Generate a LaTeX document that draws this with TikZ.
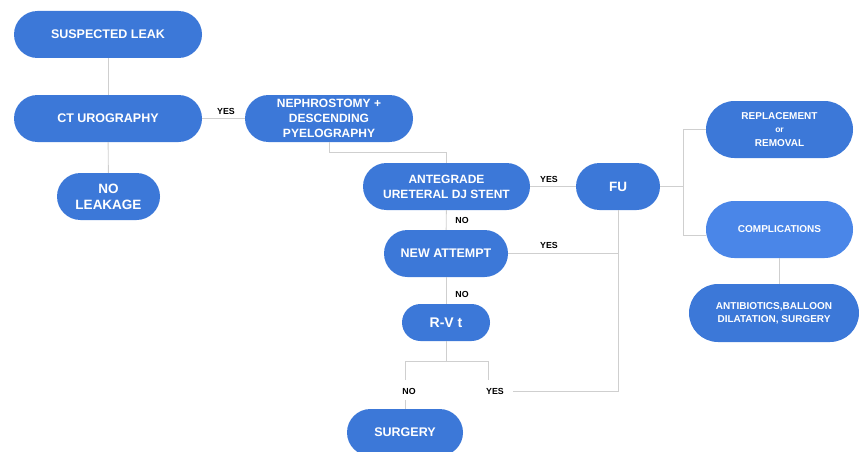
\documentclass[tikz,border=0pt]{standalone}
\usepackage{fontspec}
\setmainfont{Liberation Sans}
\definecolor{nb}{HTML}{3C78D8}
\definecolor{nlt}{HTML}{4A86E8}
\definecolor{lnc}{HTML}{CFCFCF}
\begin{document}
\begin{tikzpicture}[x=1pt,y=-1pt,
  box/.style={fill=nb, text=white, align=center, inner sep=0pt, font=\bfseries\fontsize{12.5}{15}\selectfont},
  pill/.style n args={3}{minimum width=#1, minimum height=#2, rounded corners=#3},
  sm/.style={font=\bfseries\fontsize{10}{13.3}\selectfont},
  lk/.style={draw=lnc, line width=0.9pt},
  lab/.style={font=\bfseries\fontsize{8.8}{9}\selectfont, text=black, inner sep=0pt}]
\useasboundingbox (0,0) rectangle (859,452);
% nodes
\node[box,pill={188pt}{47pt}{23.5pt}] (sl) at (108,34.5) {SUSPECTED LEAK};
\node[box,pill={188pt}{47pt}{23.5pt}] (ct) at (108,118.5) {CT UROGRAPHY};
\node[box,pill={103pt}{47pt}{23.5pt},font=\bfseries\fontsize{13.5}{16}\selectfont] (nl) at (108.5,196.5) {NO\\LEAKAGE};
\node[box,pill={168pt}{47pt}{23.5pt},font=\bfseries\fontsize{12}{15}\selectfont] (ne) at (329,118.5) {NEPHROSTOMY +\\DESCENDING\\PYELOGRAPHY};
\node[box,pill={167pt}{47pt}{23.5pt},font=\bfseries\fontsize{12}{15}\selectfont] (an) at (446.5,186.5) {ANTEGRADE\\URETERAL DJ STENT};
\node[box,pill={84pt}{47pt}{23.5pt},font=\bfseries\fontsize{13.5}{15}\selectfont] (fu) at (618,186.5) {FU};
\node[box,sm,pill={147pt}{57pt}{28.5pt}] (re) at (779.5,129.5) {REPLACEMENT\\{\fontsize{8.5}{13.3}\selectfont or}\\REMOVAL};
\node[box,sm,pill={147pt}{57pt}{28.5pt},fill=nlt] (co) at (779.5,229.5) {COMPLICATIONS};
\node[box,sm,pill={170pt}{58pt}{29pt}] (ab) at (774,313) {ANTIBIOTICS,BALLOON\\DILATATION, SURGERY};
\node[box,pill={124pt}{47pt}{23.5pt}] (na) at (446,253.5) {NEW ATTEMPT};
\node[box,pill={88pt}{37pt}{18.5pt},font=\bfseries\fontsize{14}{15}\selectfont] (rv) at (446,322.5) {R-V t};
\node[box,pill={116pt}{47pt}{23.5pt}] (su) at (405,432.5) {SURGERY};
% labels
\node[lab] (y1) at (226,111) {YES};
\node[lab] (y2) at (549,179) {YES};
\node[lab] (n1) at (462,220) {NO};
\node[lab] (y3) at (549,245.5) {YES};
\node[lab] (n2) at (462,294) {NO};
\node[lab] (n3) at (409,391) {NO};
\node[lab] (y4) at (495,391) {YES};
% connectors
\draw[lk] (sl) -- (ct);
\draw[lk] (ct) -- (nl);
\draw[lk] (ct) -- (ne);
\draw[lk] (ne.south) -- ++(0,10.5) -| (an.north);
\draw[lk] (an) -- (fu);
\draw[lk] (an) -- (na);
\draw[lk] (na.east) -- (na.east -| fu.south);
\draw[lk] (na) -- (rv);
\coordinate (fj) at (513,391);
\draw[lk] (fu.south) |- (fj);
\coordinate (rj) at (446,361);
\draw[lk] (rv.south) -- (rj);
\draw[lk] (rj -| su.north) -- ++(0,19);
\draw[lk] (rj -| su.north) -- (488,361) -- (488,380);
\draw[lk] (su.north) -- ++(0,-9);
\draw[lk] (fu.east) -- ++(23,0) coordinate (fk);
\draw[lk] (fk |- re.west) -- (re.west);
\draw[lk] (fk |- re.west) -- (fk |- 0,235) -- (co.west |- 0,235);
\draw[lk] (co.south) -- (co.south |- ab.north);
\end{tikzpicture}
\end{document}
